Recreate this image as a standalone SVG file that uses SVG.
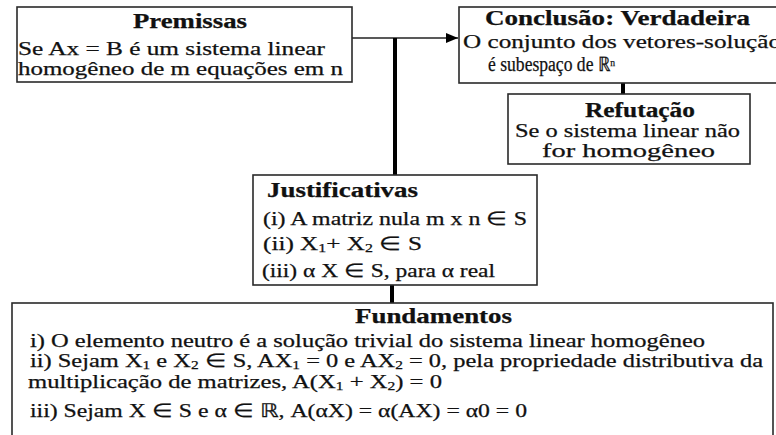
<svg xmlns="http://www.w3.org/2000/svg" width="776" height="435" viewBox="0 0 776 435">
<style>
.box{fill:#fff;stroke:#2a2a2a;stroke-width:1.6}
.t{font-family:"Liberation Serif","Times New Roman",serif;font-size:19px;fill:#111;stroke:#111;stroke-width:0.25}
.b{font-weight:bold;font-size:20px}
.thick{stroke:#000;stroke-width:4;fill:none}
.thin{stroke:#222;stroke-width:1.4;fill:none}
.sub{font-size:12px}
.sup{font-size:11px}
</style>
<defs>
<marker id="ah" markerWidth="12" markerHeight="10" refX="12" refY="5" orient="auto" markerUnits="userSpaceOnUse">
<path d="M0,0 L12,5 L0,10 Z" fill="#000"/>
</marker>
</defs>
<rect width="776" height="435" fill="#fff"/>
<g id="connectors">
<path class="thin" d="M352,38 H458" marker-end="url(#ah)"/>
<path class="thick" d="M395,38 V176"/>
<path class="thick" d="M623,83 V95"/>
<path class="thick" d="M392,285 V304"/>
</g>
<g id="premissas">
<rect class="box" x="17" y="7" width="335" height="75"/>
<text class="t b" x="133" y="28" textLength="114" lengthAdjust="spacingAndGlyphs">Premissas</text>
<text class="t" x="18" y="55" textLength="307" lengthAdjust="spacingAndGlyphs">Se Ax = B é um sistema linear</text>
<text class="t" x="18" y="75" textLength="325" lengthAdjust="spacingAndGlyphs">homogêneo de m equações em n</text>
</g>
<g id="conclusao">
<rect class="box" x="459" y="7" width="330" height="76"/>
<text class="t b" x="485" y="25" textLength="265" lengthAdjust="spacingAndGlyphs">Conclusão: Verdadeira</text>
<text class="t" x="463" y="48" textLength="318" lengthAdjust="spacingAndGlyphs">O conjunto dos vetores-solução</text>
<text class="t" x="488" y="71" style="font-size:20px" textLength="127" lengthAdjust="spacingAndGlyphs">é subespaço de ℝ<tspan class="sup" dy="-5">n</tspan></text>
</g>
<g id="refutacao">
<rect class="box" x="508" y="94" width="242" height="70"/>
<text class="t b" x="585" y="117" textLength="110" lengthAdjust="spacingAndGlyphs">Refutação</text>
<text class="t" x="515" y="137" textLength="225" lengthAdjust="spacingAndGlyphs">Se o sistema linear não</text>
<text class="t" x="542" y="157" textLength="173" lengthAdjust="spacingAndGlyphs">for homogêneo</text>
</g>
<g id="justificativas">
<rect class="box" x="253" y="175" width="284" height="110"/>
<text class="t b" x="267" y="197" textLength="151" lengthAdjust="spacingAndGlyphs">Justificativas</text>
<text class="t" x="263" y="225" textLength="264" lengthAdjust="spacingAndGlyphs">(i) A matriz nula m x n ∈ S</text>
<text class="t" x="263" y="250" textLength="159" lengthAdjust="spacingAndGlyphs">(ii) X<tspan class="sub" dy="2">1</tspan><tspan dy="-2">+  X</tspan><tspan class="sub" dy="2">2</tspan><tspan dy="-2"> ∈ S</tspan></text>
<text class="t" x="262" y="277" textLength="233" lengthAdjust="spacingAndGlyphs">(iii) α X ∈ S, para α real</text>
</g>
<g id="fundamentos">
<rect class="box" x="12" y="303" width="761" height="140"/>
<text class="t b" x="355" y="323" textLength="157" lengthAdjust="spacingAndGlyphs">Fundamentos</text>
<text class="t" x="30" y="347" textLength="675" lengthAdjust="spacingAndGlyphs">i) O elemento neutro é a solução trivial do sistema linear homogêneo</text>
<text class="t" x="30" y="367" textLength="733" lengthAdjust="spacingAndGlyphs">ii) Sejam X<tspan class="sub" dy="2">1</tspan><tspan dy="-2"> e X</tspan><tspan class="sub" dy="2">2</tspan><tspan dy="-2"> ∈ S, AX</tspan><tspan class="sub" dy="2">1</tspan><tspan dy="-2"> = 0 e AX</tspan><tspan class="sub" dy="2">2</tspan><tspan dy="-2"> = 0, pela propriedade distributiva da</tspan></text>
<text class="t" x="28" y="388" textLength="414" lengthAdjust="spacingAndGlyphs">multiplicação de matrizes, A(X<tspan class="sub" dy="2">1</tspan><tspan dy="-2"> + X</tspan><tspan class="sub" dy="2">2</tspan><tspan dy="-2">) = 0</tspan></text>
<text class="t" x="30" y="417" textLength="497" lengthAdjust="spacingAndGlyphs">iii) Sejam X ∈ S e α ∈ ℝ, A(αX) = α(AX) = α0 = 0</text>
</g>
</svg>
